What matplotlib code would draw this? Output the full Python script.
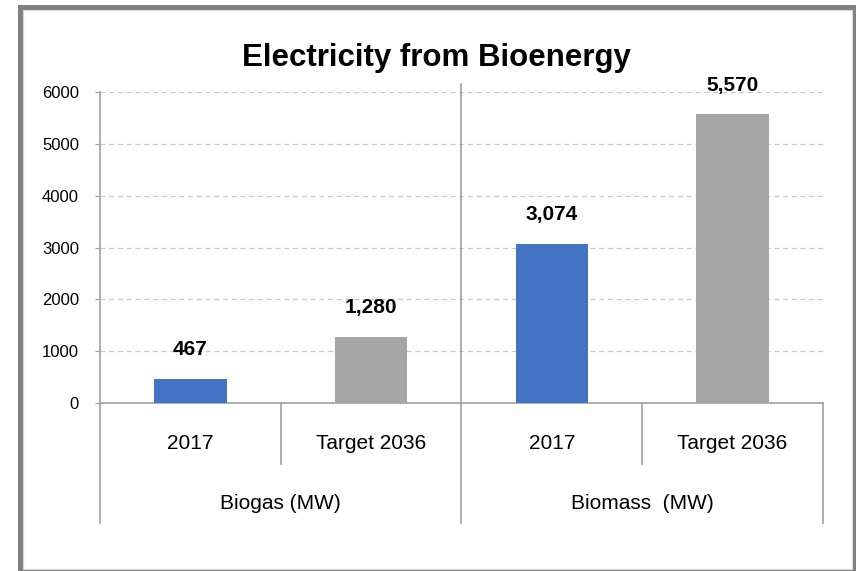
import matplotlib
matplotlib.use('Agg')
from matplotlib import pyplot as plt
from matplotlib.patches import Rectangle

plt.rcParams['font.family'] = ['Liberation Sans', 'DejaVu Sans']

# 数据
categories = ['2017', 'Target 2036', '2017', 'Target 2036']
groups = ['Biogas (MW)', 'Biomass  (MW)']
values = [467, 1280, 3074, 5570]
labels = ['467', '1,280', '3,074', '5,570']
colors = ['#4472C4', '#A5A5A5', '#4472C4', '#A5A5A5']
yticks = [0, 1000, 2000, 3000, 4000, 5000, 6000]

W, H = 856, 571
fig = plt.figure(figsize=(W / 100, H / 100), dpi=100)

# 外框
fig.patches.append(Rectangle((19.5 / W, 1 - 571.5 / H), 835 / W, 565 / H,
                             transform=fig.transFigure, fill=False,
                             edgecolor='#808080', linewidth=3.6))
fig.patches.append(Rectangle((22.5 / W, 1 - 568.5 / H), 829 / W, 559 / H,
                             transform=fig.transFigure, fill=False,
                             edgecolor='#D9D9D9', linewidth=0.8))

ax = fig.add_axes([100 / W, 1 - 403 / H, 723 / W, 311 / H])
x = list(range(len(values)))
ax.bar(x, values, width=0.4, color=colors, zorder=3)
ax.set_xlim(-0.5, 3.5)
ax.set_ylim(0, 6000)
ax.set_yticks(yticks)
ax.set_yticklabels([str(v) for v in yticks], fontsize=12)
ax.set_xticks([])
ax.yaxis.grid(True, linestyle=(0, (4, 3)), color='#C8C8C8', linewidth=0.9, zorder=0)

for s in ['top', 'right']:
    ax.spines[s].set_visible(False)
for s in ['left', 'bottom']:
    ax.spines[s].set_color('#A0A0A0')
    ax.spines[s].set_linewidth(1.2)
ax.tick_params(axis='y', length=3.6, color='#A0A0A0', pad=11.5)

# 数值标签
for xi, v, lab in zip(x, values, labels):
    ax.annotate(lab, (xi, v), xytext=(0, 17), textcoords='offset points',
                ha='center', va='baseline', fontsize=15, fontweight='bold')

# 分组分隔线
tr = ax.get_xaxis_transform()
ax.plot([1.5, 1.5], [0, 1.026], transform=tr, color='#A0A0A0', lw=1.2, clip_on=False)
for xs in [-0.5, 1.5, 3.5]:
    ax.plot([xs, xs], [0, -0.386], transform=tr, color='#A0A0A0', lw=1.2, clip_on=False)
for xs in [0.5, 2.5]:
    ax.plot([xs, xs], [0, -0.196], transform=tr, color='#A0A0A0', lw=1.2, clip_on=False)

for xi, c in zip(x, categories):
    ax.text(xi, -0.129, c, transform=tr, ha='center', va='center', fontsize=15)
for gi, g in enumerate(groups):
    ax.text(gi * 2 + 0.5, -0.322, g, transform=tr, ha='center', va='center', fontsize=15)

fig.text(436 / W, 1 - 58 / H, 'Electricity from Bioenergy', ha='center', va='center',
         fontsize=22.5, fontweight='bold')

fig.savefig('out.png', dpi=100)
